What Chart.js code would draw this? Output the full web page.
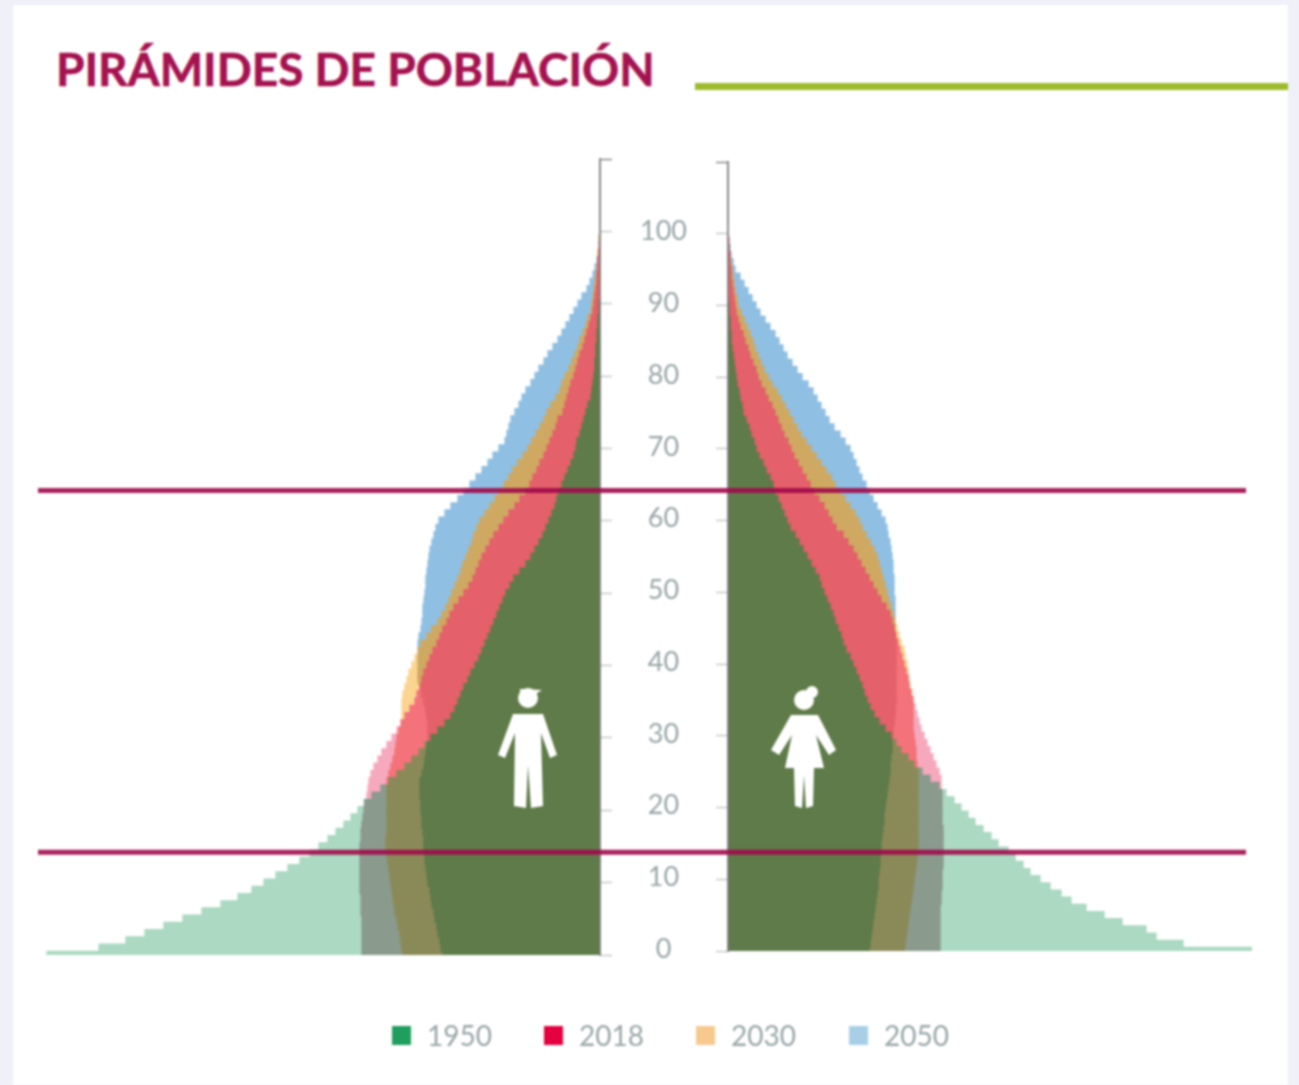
<!DOCTYPE html>
<html lang="es">
<head>
<meta charset="utf-8">
<title>Pirámides de población</title>
<script src="https://cdn.jsdelivr.net/npm/chart.js@4"></script>
<style>
	html, body { margin: 0; padding: 0; background: #eff0f8; }
	#page { position: relative; width: 1299px; height: 1085px; overflow: hidden; filter: blur(1.1px); }
	#panel { position: absolute; left: 13px; top: 5px; width: 1275px; height: 1080px; background: #fff; }
	#title { position: absolute; left: 56px; top: 41px; margin: 0; font: 700 46px Lato, sans-serif; color: #a5124f; white-space: nowrap; -webkit-text-stroke: 0.6px #a5124f; }
	#rule { position: absolute; left: 695px; top: 83px; width: 593px; height: 7px; background: #9dbb2c; }
	canvas { position: absolute; left: 0; top: 0; }
	#icons { position: absolute; left: 0; top: 0; }
	.key { position: absolute; top: 1020px; font: 400 28px Lato, sans-serif; color: #98a6a8; line-height: 30px; }
	.key i { position: absolute; left: 0; top: 6px; width: 19px; height: 19px; }
	.key span { position: absolute; left: 35px; top: 0; }
</style>
</head>
<body>
<div id="page">
	<div id="panel"></div>
	<h1 id="title">PIRÁMIDES DE POBLACIÓN</h1>
	<div id="rule"></div>
	<canvas id="mujeres" width="1299" height="1085"></canvas>
	<canvas id="hombres" width="1299" height="1085"></canvas>
	<svg id="icons" width="1299" height="1085" fill="#fff">
		<circle cx="528" cy="698" r="10"/>
		<path d="M520 689 L542 690 L534 695 L520 695 Z"/>
		<path d="M513 714 L543 714 L557 755 L550 758 L541 733 L543 806 L531 808 L528 765 L526 808 L514 806 L515 733 L505 758 L498 755 Z"/>
		<circle cx="804" cy="700" r="10"/>
		<circle cx="812" cy="692" r="6"/>
		<path d="M791 715 L818 715 L836 750 L829 755 L816 735 L824 768 L814 768 L813 806 L806 808 L804 775 L802 808 L795 806 L794 768 L785 768 L792 735 L779 755 L771 750 Z"/>
	</svg>
	<div id="legend"></div>
</div>

<script>
// edades 0 a 100, ancho de cada barra
var edades = [];
for (var e = 0; e <= 100; e++) edades.push(e);

var ticksEdad = [0, 10, 20, 30, 40, 50, 60, 70, 80, 90, 100];
var lineasEdad = [14.2, 64.2];
var anios = ['1950', '2018', '2030', '2050'];
var coloresLeyenda = ['#1f9e5e', '#e4003f', '#f7c98f', '#a9cfe6'];

var hombres1950 = [553,501,474,455,436,417,398,379,362,348,
	336,324,312,300,290,281,272,264,256,249,
	242,236,228,219,211,203,195,188,181,175,
	169,162,155,149,145,142,139,136,132,129,
	125,121,118,115,112,109,106,103,100,97,
	94,90,86,80,74,69,65,61,57,54,
	51,48,45,43,41,38,35,32,29,26,
	24,23,20,18,16,14,12,9,8,7,
	6,5,5,4,4,3,3,2,2,1,
	1,0,0,0,0,0,0,0,0,0,0];
var hombres2018 = [238,238,238,238,238,238,239,239,239,240,
	240,240,240,240,240,240,239,239,238,237,
	236,235,233,232,231,229,226,222,218,213,
	208,203,199,195,190,185,183,180,178,176,
	173,170,167,163,160,157,153,150,146,141,
	136,131,127,124,121,118,114,110,106,101,
	96,91,85,80,74,70,67,63,60,56,
	53,50,47,44,42,37,35,33,31,29,
	26,24,22,20,17,15,13,11,9,7,
	6,5,4,3,3,2,2,1,1,0,0];
var hombres2030 = [197,198,199,200,202,203,205,206,207,208,
	209,210,211,212,213,214,214,213,213,213,
	213,213,213,213,213,211,209,207,205,204,
	203,201,199,198,198,198,197,195,193,191,
	188,185,182,179,173,168,162,158,154,151,
	148,145,142,139,137,134,131,128,126,123,
	120,115,110,105,101,96,91,87,82,77,
	72,68,64,60,56,53,49,44,40,38,
	35,31,28,25,22,20,17,14,12,9,
	8,7,6,5,4,3,2,2,1,1,0];
var hombres2050 = [157,159,160,162,163,165,166,168,169,170,
	172,173,174,175,175,176,176,177,178,178,
	179,179,180,180,180,178,176,175,174,173,
	172,172,172,173,174,176,178,180,182,182,
	182,182,182,182,181,179,178,177,177,176,
	175,174,174,173,172,171,170,168,166,164,
	161,155,149,142,136,130,124,118,112,107,
	101,95,93,91,89,85,81,78,74,69,
	65,61,56,52,47,42,38,34,30,26,
	22,18,13,10,7,5,3,2,1,1,0];

var mujeres1950 = [524,455,428,418,394,376,358,343,333,322,
	312,302,295,287,280,270,263,255,247,240,
	233,226,218,211,202,194,186,180,173,168,
	163,157,151,146,142,139,136,134,131,128,
	125,122,118,115,113,110,107,105,102,99,
	96,93,91,87,83,79,75,71,67,62,
	59,56,53,50,47,45,42,38,35,31,
	28,26,23,21,18,15,14,12,11,9,
	8,7,6,5,4,3,3,2,2,1,
	1,0,0,0,0,0,0,0,0,0,0];
var mujeres2018 = [212,212,212,212,212,212,212,213,213,214,
	214,214,215,215,215,215,215,215,214,214,
	214,214,214,213,213,211,208,205,202,199,
	196,193,191,189,187,185,183,181,180,178,
	176,174,172,170,168,166,164,162,158,153,
	149,145,141,137,133,129,125,120,115,108,
	104,100,96,91,86,82,78,74,70,66,
	63,60,56,53,50,47,44,40,37,33,
	30,28,25,22,20,17,15,12,10,8,
	7,6,5,4,3,3,2,2,1,1,0];
var mujeres2030 = [176,177,178,179,180,181,182,183,184,185,
	186,187,188,189,190,190,190,190,190,190,
	190,190,190,190,190,190,189,188,188,187,
	186,185,185,185,185,185,184,182,181,180,
	179,177,176,173,171,169,167,165,163,161,
	159,157,155,153,151,149,146,142,138,134,
	131,127,122,117,112,107,103,98,93,88,
	83,78,73,69,65,61,57,53,49,44,
	40,36,33,30,27,25,22,19,16,13,
	10,9,7,6,5,4,3,2,1,1,0];
var mujeres2050 = [141,142,143,144,145,146,147,148,149,150,
	150,151,152,152,153,153,154,155,156,156,
	157,158,159,160,161,162,162,163,164,164,
	165,165,166,167,167,168,168,168,168,168,
	168,168,168,168,167,167,167,167,167,167,
	166,166,166,165,165,164,163,162,160,159,
	157,153,149,145,141,138,134,131,128,125,
	122,117,112,106,101,97,93,89,85,80,
	74,69,64,59,55,51,47,42,37,32,
	28,24,20,16,12,7,5,3,2,1,0];

// color de cada zona segun los anios que la cubren
var mezclas = {
	'1950': '#abd9c1',
	'2018': '#f6a9bd',
	'2030': '#fbd48f',
	'2050': '#8fbfe2',
	'2018+2030': '#f4727a',
	'2018+2050': '#d9808f',
	'2030+2050': '#cfa962',
	'2018+2030+2050': '#e4606a',
	'1950+2018': '#8a9a8d',
	'1950+2030': '#8f9a70',
	'1950+2050': '#7a9a8a',
	'1950+2018+2030': '#8a8a58',
	'1950+2018+2050': '#6a8060',
	'1950+2030+2050': '#6f7f55',
	'1950+2018+2030+2050': '#5f7b49'
};

function capas(series) {
	var sets = [0, 1, 2, 3].map(function (i) {
		return { label: 'capa ' + (i + 1), data: [], backgroundColor: [], grouped: false,
			barPercentage: 1, categoryPercentage: 1, borderWidth: 0, inflateAmount: 0.6 };
	});
	edades.forEach(function (edad, n) {
		var orden = [0, 1, 2, 3].sort(function (a, b) { return series[a][n] - series[b][n]; });
		var antes = 0;
		orden.forEach(function (s, i) {
			var v = series[s][n];
			var clave = anios.filter(function (a, k) { return series[k][n] >= v; }).join('+');
			sets[i].data.push({ y: edad, x: v > antes ? [antes, v] : null });
			sets[i].backgroundColor.push(mezclas[clave]);
			antes = v;
		});
	});
	return sets;
}

var lineasRosas = {
	id: 'lineasRosas',
	afterDraw: function (chart) {
		var c = chart.ctx;
		c.save();
		c.strokeStyle = 'rgba(160, 10, 75, 0.9)';
		c.lineWidth = 5;
		lineasEdad.forEach(function (edad) {
			var y = chart.scales.y.getPixelForValue(edad);
			c.beginPath();
			c.moveTo(38, y);
			c.lineTo(1246, y);
			c.stroke();
		});
		c.restore();
	}
};

function marcaEdad(ctx) {
	return ctx.tick && ctx.tick.value === 110 ? '#8a8a8a' : '#c3caca';
}

// hombres, a la izquierda
new Chart(document.getElementById('hombres').getContext('2d'), {
	type: 'bar',
	data: { datasets: capas([hombres1950, hombres2018, hombres2030, hombres2050]) },
	options: {
		indexAxis: 'y',
		responsive: false,
		animation: false,
		layout: { padding: { left: 45, right: 687, top: 159, bottom: 130 } },
		plugins: { legend: { display: false }, tooltip: { enabled: false } },
		scales: {
			x: { type: 'linear', reverse: true, min: 0, max: 555, display: false },
			y: {
				type: 'linear', position: 'right', min: 0, max: 110, offset: false,
				afterFit: function (s) { s.width = 12; },
				ticks: { stepSize: 10, display: false },
				grid: { offset: false, drawOnChartArea: false, tickLength: 12, tickWidth: 1.5, tickColor: marcaEdad },
				border: { color: 'rgba(125,125,125,0.9)', width: 2, z: 1 }
			}
		}
	},
	plugins: [lineasRosas]
});

// mujeres, a la derecha
new Chart(document.getElementById('mujeres').getContext('2d'), {
	type: 'bar',
	data: { datasets: capas([mujeres1950, mujeres2018, mujeres2030, mujeres2050]) },
	options: {
		indexAxis: 'y',
		responsive: false,
		animation: false,
		layout: { padding: { left: 628, right: 47, top: 162, bottom: 134 } },
		plugins: { legend: { display: false }, tooltip: { enabled: false } },
		scales: {
			x: { type: 'linear', min: 0, max: 524, display: false },
			y: {
				type: 'linear', position: 'left', min: 0, max: 110, offset: false,
				afterFit: function (s) { s.width = 100; },
				ticks: {
					stepSize: 10, padding: 29, crossAlign: 'center', labelOffset: -2,
					color: '#98a6a8', font: { family: 'Lato', size: 27 },
					callback: function (v) { return ticksEdad.indexOf(v) >= 0 ? String(v) : ''; }
				},
				grid: { offset: false, drawOnChartArea: false, tickLength: 12, tickWidth: 1.5, tickColor: marcaEdad },
				border: { color: 'rgba(125,125,125,0.9)', width: 2, z: 1 }
			}
		}
	}
});

// leyenda
var xLeyenda = [392, 544, 696, 849];
anios.forEach(function (a, i) {
	var d = document.createElement('div');
	d.className = 'key';
	d.style.left = xLeyenda[i] + 'px';
	d.innerHTML = '<i style="background:' + coloresLeyenda[i] + '"></i><span>' + a + '</span>';
	document.getElementById('legend').appendChild(d);
});
</script>
</body>
</html>
